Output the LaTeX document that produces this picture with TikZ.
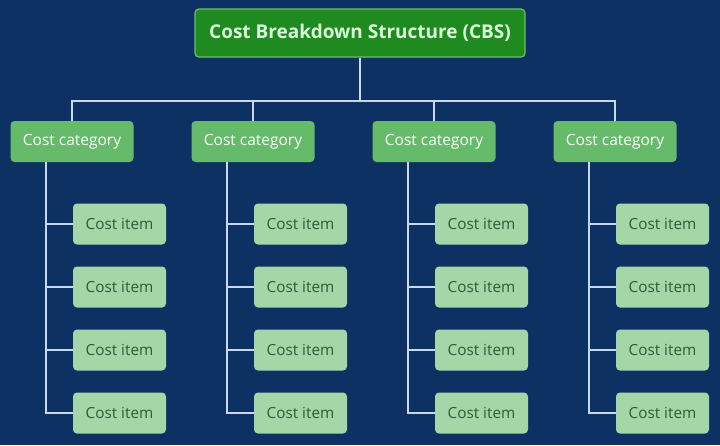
\documentclass[tikz,border=0pt]{standalone}
\usepackage{fontspec}
\setmainfont{Open Sans}
\usetikzlibrary{positioning}
\definecolor{bg}{RGB}{14,49,99}
\definecolor{topgreen}{RGB}{31,138,31}
\definecolor{topedge}{RGB}{110,190,110}
\definecolor{catgreen}{RGB}{102,187,106}
\definecolor{itemgreen}{RGB}{165,214,167}
\definecolor{itemtext}{RGB}{44,92,56}
\definecolor{wire}{RGB}{200,216,240}
\tikzset{
  topbox/.style={draw=topedge, line width=1.2pt, fill=topgreen, rounded corners=4pt,
    minimum width=330pt, minimum height=48pt, text=white!85!green,
    font=\bfseries\fontsize{19}{22}\selectfont},
  catbox/.style={fill=catgreen, rounded corners=4pt, minimum width=123pt,
    minimum height=41pt, text=white, font=\fontsize{15.5}{18}\selectfont},
  itembox/.style={fill=itemgreen, rounded corners=4pt, minimum width=93pt,
    minimum height=41pt, text=itemtext, font=\fontsize{15.3}{18}\selectfont},
  link/.style={draw=wire, line width=1.8pt}
}
\begin{document}
\begin{tikzpicture}[x=1pt,y=-1pt]
\fill[bg](0,0)rectangle(720,445);
\useasboundingbox(0,0)rectangle(720,445);
% root and the bus under it
\node[topbox](cbs) at (360,33) {Cost Breakdown Structure (CBS)};
\draw[link](cbs.south)--++(0,43) coordinate(bus);
\foreach \i in {1,...,4} {
\node[catbox](cat\i) at (72+181*\i-181,141.5) {Cost category};
\draw[link](cat\i.north)|-(bus);
\coordinate(spine\i) at ([xshift=36pt]cat\i.south west);
\foreach \j in {1,...,4} {
\node[itembox](it\i\j) at (119.5+181*\i-181,224+63*\j-63) {Cost item};
\draw[link](spine\i)|-(it\i\j.west);}
}
\end{tikzpicture}
\end{document}
